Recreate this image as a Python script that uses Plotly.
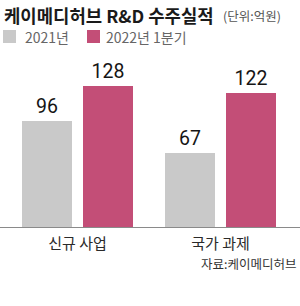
import plotly.graph_objects as go

categories = ["신규 사업", "국가 과제"]
series_names = ["2021년", "2022년 1분기"]
values_2021 = [96, 67]
values_2022q1 = [128, 122]
title_text = "케이메디허브 R&D 수주실적"
unit_text = "(단위:억원)"
source_text = "자료:케이메디허브"

colors = ["#c9c9c9", "#c34e77"]

W, H = 300, 306
TOP, BASE = 60, 227
PH = BASE - TOP

def px2x(px):
    return px / W

def py2y(py):
    return (BASE - py) / PH

UNIT = 143.0
CENTER0 = 77.5
bar_w = 50 / UNIT
offsets = [(22 - CENTER0) / UNIT, (83 - CENTER0) / UNIT]

fig = go.Figure()
for name, vals, col, off in zip(series_names, [values_2021, values_2022q1], colors, offsets):
    fig.add_trace(go.Bar(
        x=[0, 1], y=vals, name=name,
        marker=dict(color=col, line=dict(width=0)),
        width=bar_w, offset=off,
        text=[str(v) for v in vals], textposition="outside",
        textfont=dict(family="Liberation Sans Narrow, Roboto, sans-serif", size=19.5, color="#151515"),
        cliponaxis=False, showlegend=False,
    ))

ymax = PH / 1.1
fig.update_layout(
    width=W, height=H,
    margin=dict(l=0, r=0, t=TOP, b=H - BASE),
    paper_bgcolor="white", plot_bgcolor="white",
    bargap=0,
    xaxis=dict(
        range=[-CENTER0 / UNIT, (W - CENTER0) / UNIT],
        tickmode="array", tickvals=[0, 1], ticktext=categories,
        showline=True, linecolor="#8a8a8a", linewidth=1,
        showgrid=False, zeroline=False, ticks="",
        tickfont=dict(family="Noto Sans CJK KR", size=15, color="#2a2a2a"),
        ticklabelstandoff=3, fixedrange=True,
    ),
    yaxis=dict(range=[0, ymax], visible=False, showgrid=False, zeroline=False, fixedrange=True),
    showlegend=False,
)

anns = []
shapes = []
anns.append(dict(text="<b>" + title_text + "</b>", xref="paper", yref="paper",
                 x=px2x(2), y=py2y(15), xanchor="left", yanchor="middle", showarrow=False,
                 font=dict(family="Noto Sans CJK KR", size=17.8, color="#1a1a1a")))
anns.append(dict(text=unit_text, xref="paper", yref="paper",
                 x=px2x(221), y=py2y(16), xanchor="left", yanchor="middle", showarrow=False,
                 font=dict(family="Noto Sans CJK KR", size=12.5, color="#555")))
# legend
leg_sq = [3, 87]
leg_tx = [23, 104]
for name, col, sx, tx in zip(series_names, colors, leg_sq, leg_tx):
    shapes.append(dict(type="rect", xref="paper", yref="paper",
                       x0=px2x(sx), x1=px2x(sx + 13), y0=py2y(43), y1=py2y(30),
                       fillcolor=col, line=dict(width=0)))
    anns.append(dict(text=name, xref="paper", yref="paper",
                     x=px2x(tx), y=py2y(37), xanchor="left", yanchor="middle", showarrow=False,
                     font=dict(family="Noto Sans CJK KR", size=14, color="#666")))
anns.append(dict(text=source_text, xref="paper", yref="paper",
                 x=px2x(298), y=py2y(263), xanchor="right", yanchor="middle", showarrow=False,
                 font=dict(family="Noto Sans CJK KR", size=12.5, color="#333")))
fig.update_layout(annotations=anns, shapes=shapes)

fig.write_html("out.html")
